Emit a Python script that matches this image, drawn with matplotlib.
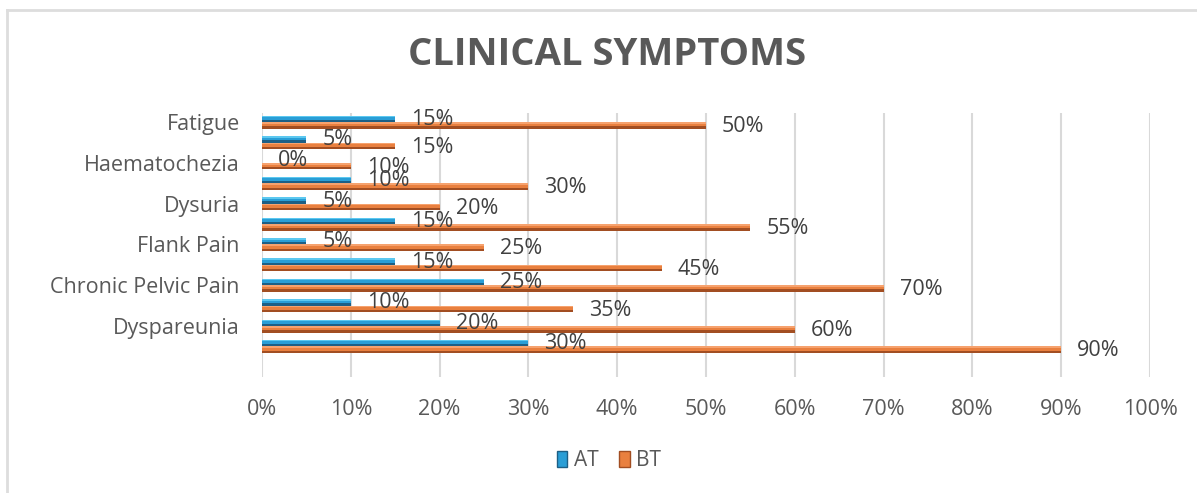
import matplotlib
matplotlib.use("Agg")
import matplotlib.pyplot as plt
import numpy as np
from matplotlib.lines import Line2D
from matplotlib.patches import Patch

# Data (bottom to top)
categories = ["", "Dyspareunia", "", "Chronic Pelvic Pain", "", "Flank Pain",
              "", "Dysuria", "", "Haematochezia", "", "Fatigue"]
at_values = [30, 20, 10, 25, 15, 5, 15, 5, 10, 0, 5, 15]
bt_values = [90, 60, 35, 70, 45, 25, 55, 20, 30, 10, 15, 50]
series_names = ["AT", "BT"]
xticks = [0, 10, 20, 30, 40, 50, 60, 70, 80, 90, 100]

plt.rcParams['font.family'] = ['Open Sans', 'DejaVu Sans']

fig = plt.figure(figsize=(11.97, 4.93), dpi=100)
ax = fig.add_axes([262/1197, 1-377/493, (1150-262)/1197, (377-113)/493])

y = np.arange(len(categories))
h = 0.32
blue, blue_dk, blue_lt = "#2A9ED6", "#1D5F85", "#5CC8F0"
orng, orng_dk, orng_lt = "#E9803F", "#A24E22", "#F6A26E"

def draw(vals, yc, c, cdk, clt):
    ax.barh(yc, vals, height=h, color=c, zorder=3)
    ax.barh(yc - h*0.5 + h*0.18, vals, height=h*0.36, color=cdk, zorder=4)
    ax.barh(yc + h*0.5 - h*0.12, vals, height=h*0.24, color=clt, zorder=4)

yb = y + h/2
yo = y - h/2
draw(at_values, yb, blue, blue_dk, blue_lt)
draw(bt_values, yo, orng, orng_dk, orng_lt)

lab_fs = 15.5
for v, yy in zip(at_values, yb):
    ax.text(v + 1.8, yy - 0.03, f"{v}%", va="center", ha="left", fontsize=lab_fs, color="#404040", zorder=5)
for v, yy in zip(bt_values, yo):
    ax.text(v + 1.8, yy - 0.06, f"{v}%", va="center", ha="left", fontsize=lab_fs, color="#404040", zorder=5)

ax.set_xlim(0, 100)
ax.set_ylim(-1.5, 11.45)
ax.set_xticks(xticks)
ax.set_xticklabels([f"{t}%" for t in xticks], fontsize=15.5, color="#595959")
ax.set_yticks(y)
ax.set_yticklabels(categories, fontsize=15.5, color="#595959")
ax.tick_params(axis='both', length=0)
ax.tick_params(axis='x', pad=16)
ax.tick_params(axis='y', pad=16)
ax.grid(axis='x', color="#D9D9D9", linewidth=1.5, zorder=0)
ax.set_axisbelow(True)
for s in ax.spines.values():
    s.set_visible(False)

fig.text(607/1197, 1-55/493, "CLINICAL SYMPTOMS", ha="center", va="center",
         fontsize=27.5, fontweight="bold", color="#595959")

# Legend
handles = [Patch(facecolor=blue, edgecolor=blue_dk), Patch(facecolor=orng, edgecolor=orng_dk)]
fig.legend(handles, series_names, loc="center", bbox_to_anchor=(609/1197, 1-461/493),
           ncol=2, frameon=False, fontsize=15, handlelength=0.5, handleheight=0.8,
           handletextpad=0.3, columnspacing=1.0, labelcolor="#595959")

# Chart frame (left and top edges visible)
fig.add_artist(Line2D([7/1197, 7/1197], [0, 1-10/493], transform=fig.transFigure, color="#DDDDDD", lw=2))
fig.add_artist(Line2D([7/1197, 1], [1-10/493, 1-10/493], transform=fig.transFigure, color="#DDDDDD", lw=2))

fig.savefig("out.png", dpi=100, facecolor="white")
